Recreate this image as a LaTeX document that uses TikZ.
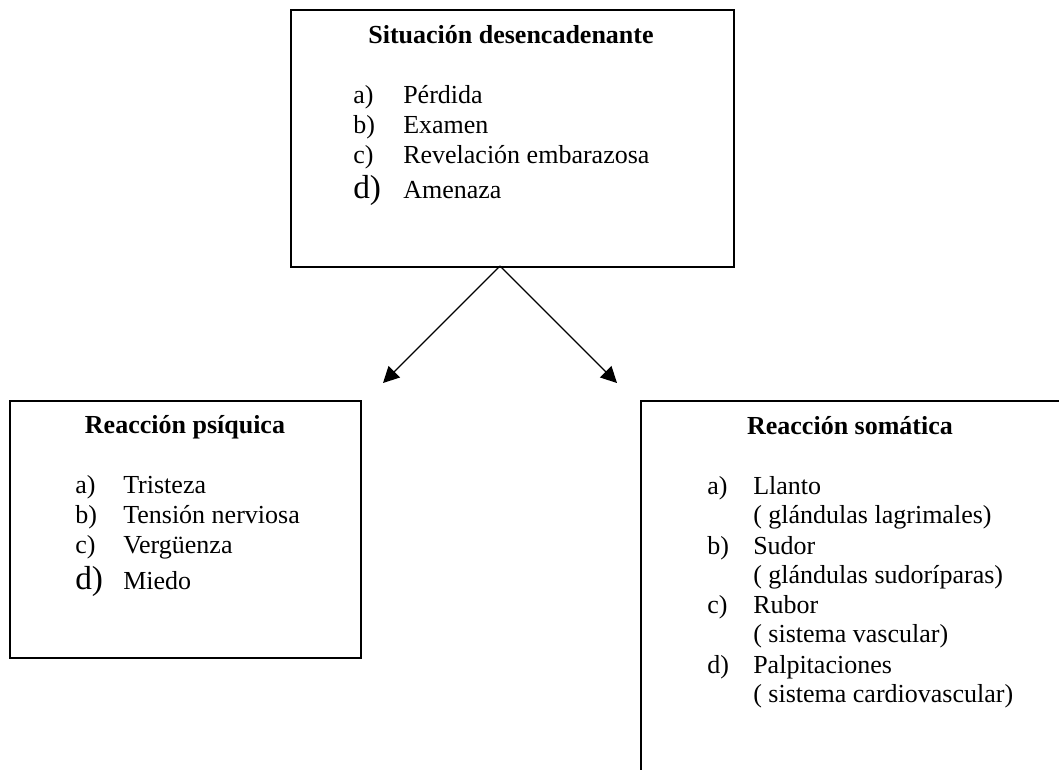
\documentclass[tikz,border=0pt]{standalone}
\usepackage{fontspec}
\setmainfont{Liberation Serif}
\usetikzlibrary{arrows.meta}
\begin{document}
\begin{tikzpicture}[x=0.75pt,y=-0.75pt,
  box/.style={draw, line width=1.25pt, inner sep=0pt, anchor=north west},
  txt/.style={inner sep=0pt, anchor=base west, font=\fontsize{19.5}{23}\selectfont},
  ttl/.style={inner sep=0pt, anchor=base, font=\fontsize{19.5}{23}\selectfont\bfseries},
  big/.style={inner sep=0pt, anchor=base west, font=\fontsize{25}{29}\selectfont},
  arr/.style={-{Triangle[length=12pt,width=12pt]}, line width=1pt}]
\useasboundingbox (0,0) rectangle (1059,769);
\clip (0,0) rectangle (1059,769);
% boxes
\node[box, minimum width=332.25pt, minimum height=192.75pt] (top) at (290,9) {};
\node[box, minimum width=263.25pt, minimum height=192.75pt] (left) at (9,400) {};
\node[box, minimum width=315.75pt, minimum height=300pt] (right) at (640,400) {};
% top box text
\node[ttl] (t0) at (511,43) {Situación desencadenante};
\node[txt] (ta) at (353,103) {a)};
\node[txt] (tat) at (403,103) {Pérdida};
\node[txt] (tb) at (353,133) {b)};
\node[txt] (tbt) at (403,133) {Examen};
\node[txt] (tc) at (353,163) {c)};
\node[txt] (tct) at (403,163) {Revelación embarazosa};
\node[big] (td) at (353,198) {d)};
\node[txt] (tdt) at (403,198) {Amenaza};
% left box text
\node[ttl] (l0) at (185,433) {Reacción psíquica};
\node[txt] (la) at (75,493) {a)};
\node[txt] (lat) at (123,493) {Tristeza};
\node[txt] (lb) at (75,523) {b)};
\node[txt] (lbt) at (123,523) {Tensión nerviosa};
\node[txt] (lc) at (75,553) {c)};
\node[txt] (lct) at (123,553) {Vergüenza};
\node[big] (ld) at (75,589) {d)};
\node[txt] (ldt) at (123,589) {Miedo};
% right box text
\node[ttl] (r0) at (850,434) {Reacción somática};
\node[txt] (ra) at (707,494) {a)};
\node[txt] (rat) at (753,494) {Llanto};
\node[txt] (ra2) at (753,523) {( glándulas lagrimales)};
\node[txt] (rb) at (707,554) {b)};
\node[txt] (rbt) at (753,554) {Sudor};
\node[txt] (rb2) at (753,583) {( glándulas sudoríparas)};
\node[txt] (rc) at (707,613) {c)};
\node[txt] (rct) at (753,613) {Rubor};
\node[txt] (rc2) at (753,642) {( sistema vascular)};
\node[txt] (rd) at (707,673) {d)};
\node[txt] (rdt) at (753,673) {Palpitaciones};
\node[txt] (rd2) at (753,702) {( sistema cardiovascular)};
% arrows
\coordinate (apex) at (500,266);
\coordinate (tipL) at (383,383);
\coordinate (tipR) at (617,383);
\draw[arr] (apex) -- (tipL);
\draw[arr] (apex) -- (tipR);
\end{tikzpicture}
\end{document}
